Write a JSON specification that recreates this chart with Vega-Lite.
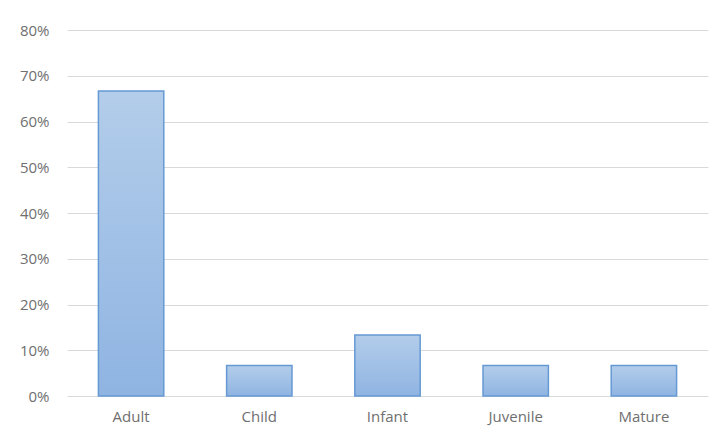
{
  "$schema": "https://vega.github.io/schema/vega-lite/v6.json",
  "width": 641,
  "height": 366,
  "autosize": {"type": "none"},
  "padding": {"left": 67, "top": 30, "right": 14, "bottom": 41},
  "background": "white",
  "data": {
    "values": [
      {"category": "Adult", "share": 0.6667},
      {"category": "Child", "share": 0.0667},
      {"category": "Infant", "share": 0.1333},
      {"category": "Juvenile", "share": 0.0667},
      {"category": "Mature", "share": 0.0667}
    ]
  },
  "mark": {
    "type": "bar",
    "color": {
      "gradient": "linear",
      "x1": 0, "y1": 0, "x2": 0, "y2": 1,
      "stops": [
        {"offset": 0, "color": "#b3cdea"},
        {"offset": 1, "color": "#8fb4e2"}
      ]
    },
    "stroke": "#6699d3",
    "strokeWidth": 1.5
  },
  "encoding": {
    "x": {
      "field": "category",
      "type": "nominal",
      "sort": null,
      "scale": {"paddingInner": 0.49, "paddingOuter": 0.245},
      "axis": {
        "title": null,
        "labelAngle": 0,
        "ticks": false,
        "domain": false,
        "labelPadding": 13,
        "labelFont": "Open Sans",
        "labelFontSize": 15,
        "labelColor": "#6f6f6f"
      }
    },
    "y": {
      "field": "share",
      "type": "quantitative",
      "scale": {"domain": [0, 0.8], "nice": false},
      "axis": {
        "title": null,
        "values": [0, 0.1, 0.2, 0.3, 0.4, 0.5, 0.6, 0.7, 0.8],
        "format": ".0%",
        "ticks": false,
        "domain": false,
        "gridColor": "#d9d9d9",
        "gridWidth": 1,
        "labelPadding": 18,
        "labelFont": "Open Sans",
        "labelFontSize": 15,
        "labelColor": "#6f6f6f"
      }
    }
  },
  "config": {"view": {"stroke": null}}
}
